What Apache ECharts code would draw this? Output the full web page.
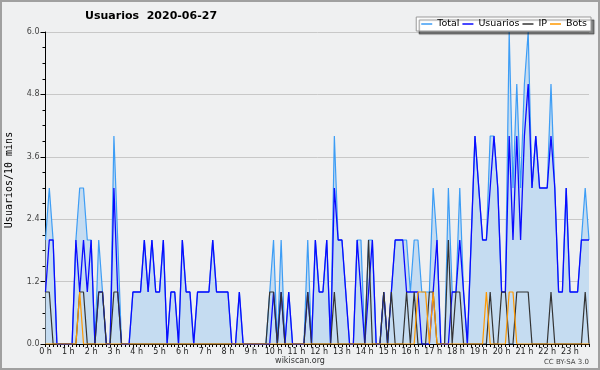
<!DOCTYPE html>
<html><head><meta charset="utf-8">
<script src="https://cdn.jsdelivr.net/npm/echarts@6/dist/echarts.min.js"></script>
<style>html,body{margin:0;padding:0;background:#eff0f1}#c{width:600px;height:370px}</style>
</head><body><div id="c"></div>
<script>
const hourLabels = ['0 h','1 h','2 h','3 h','4 h','5 h','6 h','7 h','8 h','9 h','10 h','11 h','12 h','13 h','14 h','15 h','16 h','17 h','18 h','19 h','20 h','21 h','22 h','23 h'];
const total = [
 2,3,2,0,0,0,0,0,2,3, 3,2,2,0,2,1,0,0,4,2, 0,0,0,1,1,1,2,1,2,1, 1,2,0,1,1,0,2,1,1,0,
 1,1,1,1,2,1,1,1,1,0, 0,1,0,0,0,0,0,0,0,1, 2,0,2,0,1,0,0,0,0,2, 0,2,1,1,2,0,4,2,2,1,
 0,0,2,2,0,2,2,0,0,1, 0,1,2,2,2,2,1,2,2,1, 1,1,3,2,0,0,3,1,1,3, 1,0,2,4,3,2,2,4,4,3,
 1,1,6,3,5,3,5,6,3,4, 3,3,3,5,3,1,1,3,1,1, 1,2,3,2];
const usuarios = [
 1,2,2,0,0,0,0,0,2,1, 2,1,2,0,1,1,0,0,3,1, 0,0,0,1,1,1,2,1,2,1, 1,2,0,1,1,0,2,1,1,0,
 1,1,1,1,2,1,1,1,1,0, 0,1,0,0,0,0,0,0,0,0, 1,0,1,0,1,0,0,0,0,1, 0,2,1,1,2,0,3,2,2,1,
 0,0,2,1,0,1,2,0,0,1, 0,1,2,2,2,1,1,1,1,0, 0,0,1,2,0,0,0,1,1,2, 1,0,2,4,3,2,2,3,4,3,
 1,1,4,2,4,2,4,5,3,4, 3,3,3,4,3,1,1,3,1,1, 1,2,2,2];
const ip = [
 1,1,0,0,0,0,0,0,0,1, 1,0,0,0,1,1,0,0,1,1, 0,0,0,0,0,0,0,0,0,0, 0,0,0,0,0,0,0,0,0,0,
 0,0,0,0,0,0,0,0,0,0, 0,0,0,0,0,0,0,0,0,1, 1,0,1,0,0,0,0,0,0,1, 0,0,0,0,0,0,1,0,0,0,
 0,0,0,0,0,2,0,0,0,1, 0,1,0,0,0,1,0,1,0,0, 0,1,1,0,0,0,2,0,1,1, 0,0,0,0,0,0,0,1,0,0,
 1,1,0,0,1,1,1,1,0,0, 0,0,0,1,0,0,0,0,0,0, 0,0,1,0];
const bots = [
 0,0,0,0,0,0,0,0,0,1, 0,0,0,0,0,0,0,0,0,0, 0,0,0,0,0,0,0,0,0,0, 0,0,0,0,0,0,0,0,0,0,
 0,0,0,0,0,0,0,0,0,0, 0,0,0,0,0,0,0,0,0,0, 0,0,0,0,0,0,0,0,0,0, 0,0,0,0,0,0,0,0,0,0,
 0,0,0,0,0,0,0,0,0,0, 0,0,0,0,0,0,0,0,1,1, 1,0,1,0,0,0,0,0,0,0, 0,0,0,0,0,0,1,0,0,0,
 0,0,1,1,0,0,0,0,0,0, 0,0,0,0,0,0,0,0,0,0, 0,0,0,0];

const categories = [];
for (let h = 0; h < 24; h++) for (let m = 0; m < 6; m++) categories.push(h + ':' + m + '0');

const chart = echarts.init(document.getElementById('c'), null, {renderer: 'canvas'});
const FF = '"DejaVu Sans", Verdana, sans-serif';
function lineSeries(name, data, color, width, extra) {
  return Object.assign({
    name: name, type: 'line', data: data, symbol: 'none', showSymbol: false,
    lineStyle: {color: color, width: width}, itemStyle: {color: color},
    emphasis: {disabled: true}
  }, extra || {});
}
chart.setOption({
  backgroundColor: '#eff0f1',
  animation: false,
  title: {
    text: 'Usuarios  2020-06-27', left: 85, top: 11, padding: 0,
    textStyle: {fontFamily: FF, fontSize: 11, fontWeight: 'bold', color: '#000'}
  },
  legend: {
    right: 9, top: 17, padding: [2, 4, 2, 5], itemGap: 3, itemWidth: 11, itemHeight: 1.5,
    backgroundColor: '#fff', borderColor: '#999', borderWidth: 1,
    shadowColor: 'rgba(0,0,0,0.45)', shadowOffsetX: 3, shadowOffsetY: 3, shadowBlur: 1,
    textStyle: {fontFamily: FF, fontSize: 9.5, color: '#000', padding: [0, 0, 0, 0]},
    data: [{name: 'Total', icon: 'rect'}, {name: 'Usuarios', icon: 'rect'}, {name: 'IP', icon: 'rect'}, {name: 'Bots', icon: 'rect'}]
  },
  grid: {left: 45.5, right: 11, top: 32, bottom: 26},
  xAxis: {
    type: 'category', data: categories, boundaryGap: false,
    axisLine: {lineStyle: {color: '#000', width: 1}},
    axisTick: {interval: 0, length: 3, lineStyle: {color: '#000'}},
    axisLabel: {interval: 5, formatter: (v, i) => hourLabels[Math.floor(i / 6)], fontFamily: FF, fontSize: 8, color: '#222', margin: 4},
    splitLine: {show: false}
  },
  yAxis: {
    type: 'value', min: 0, max: 6, interval: 1.2,
    axisLine: {show: true, lineStyle: {color: '#000'}},
    axisTick: {show: true, length: 5, lineStyle: {color: '#000'}},
    minorTick: {show: true, splitNumber: 4, length: 3, lineStyle: {color: '#000'}},
    axisLabel: {formatter: v => v.toFixed(1), fontFamily: FF, fontSize: 8, color: '#444', margin: 6},
    splitLine: {lineStyle: {color: '#c8c8c8'}}
  },
  series: [
    lineSeries('Total', total, '#3d9df5', 1.2, {areaStyle: {color: '#c5dcf1', opacity: 1}, z: 1}),
    lineSeries('Usuarios', usuarios, '#0a0aff', 1.3, {z: 2}),
    lineSeries('IP', ip, '#333333', 1.2, {z: 3}),
    lineSeries('Bots', bots, '#ff9900', 1.2, {z: 4})
  ],
  graphic: [
    {type: 'text', x: 9, y: 180, rotation: Math.PI / 2, silent: true,
     style: {text: 'Usuarios/10 mins', font: '10px "DejaVu Sans Mono", monospace', fill: '#000', align: 'center', verticalAlign: 'middle'}},
    {type: 'text', x: 300, y: 361, silent: true,
     style: {text: 'wikiscan.org', font: '8px ' + FF, fill: '#333', align: 'center', verticalAlign: 'middle'}},
    {type: 'text', x: 589, y: 362, silent: true,
     style: {text: 'CC BY-SA 3.0', font: '7px ' + FF, fill: '#444', align: 'right', verticalAlign: 'middle'}},
    {type: 'rect', silent: true, z: 100, shape: {x: 1, y: 1, width: 598, height: 368},
     style: {fill: 'none', stroke: '#a0a0a0', lineWidth: 2}}
  ]
});
</script></body></html>
